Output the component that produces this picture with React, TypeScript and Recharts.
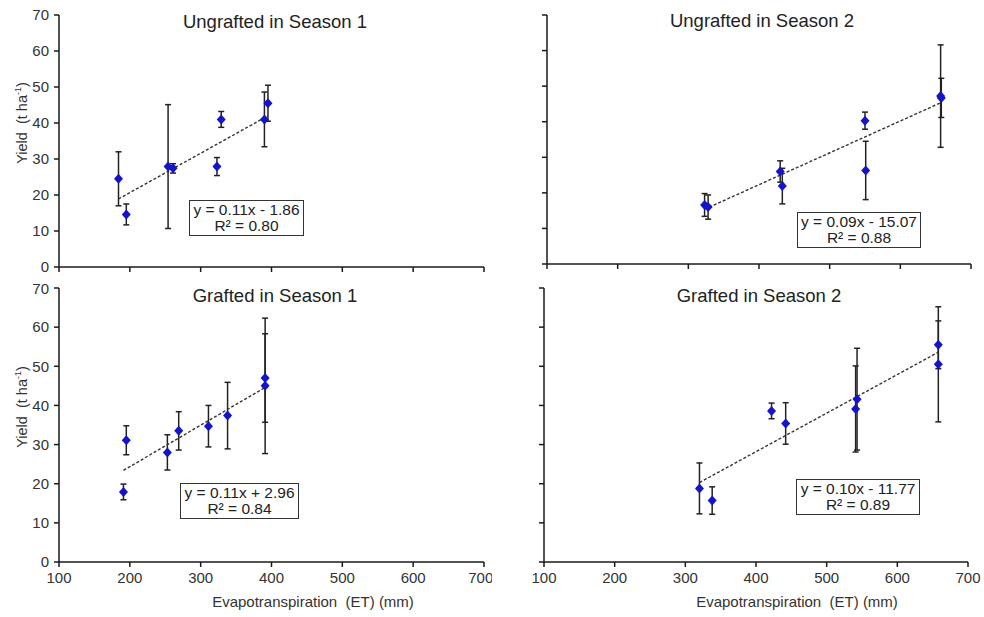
import React from 'react';
import { ScatterChart, Scatter, XAxis, YAxis, ErrorBar } from 'recharts';

// ET (mm), yield (t/ha) and error (±) for each panel
const ungrafted1X = [184, 195, 254, 261, 323, 329, 390, 395];
const ungrafted1Y = [24.5, 14.6, 27.9, 27.4, 27.9, 41.0, 41.0, 45.5];
const ungrafted1Err = [7.5, 2.9, 17.2, 1.3, 2.5, 2.2, 7.6, 5.0];

const ungrafted2X = [323, 328, 430, 433, 550, 551, 657, 658];
const ungrafted2Y = [16.6, 16.0, 26.0, 21.9, 40.3, 26.3, 47.2, 46.7];
const ungrafted2Err = [3.2, 3.4, 3.0, 5.0, 2.4, 8.2, 14.4, 5.5];

const grafted1X = [191, 195, 253, 269, 311, 338, 391, 391];
const grafted1Y = [17.9, 31.1, 28.0, 33.5, 34.7, 37.4, 47.0, 45.0];
const grafted1Err = [2.0, 3.7, 4.5, 4.9, 5.3, 8.5, 11.3, 17.3];

const grafted2X = [320, 338, 422, 442, 541, 543, 658, 658];
const grafted2Y = [18.8, 15.7, 38.6, 35.4, 39.1, 41.6, 55.5, 50.5];
const grafted2Err = [6.5, 3.5, 2.0, 5.3, 11.0, 13.0, 6.1, 14.7];

// fitted line end points [x, y] as drawn
const ungrafted1Trend = [[184, 18.9], [395, 42.0]];
const ungrafted2Trend = [[323, 15.4], [658, 45.4]];
const grafted1Trend = [[191, 23.4], [391, 44.6]];
const grafted2Trend = [[320, 20.3], [658, 53.6]];

const titles = ['Ungrafted in Season 1', 'Ungrafted in Season 2', 'Grafted in Season 1', 'Grafted in Season 2'];
const equations = ['y = 0.11x - 1.86', 'y = 0.09x - 15.07', 'y = 0.11x + 2.96', 'y = 0.10x - 11.77'];
const rSquared = ['R² = 0.80', 'R² = 0.88', 'R² = 0.84', 'R² = 0.89'];

const xTicks = [100, 200, 300, 400, 500, 600, 700];
const yTicks = [0, 10, 20, 30, 40, 50, 60, 70];

const FONT = '"Liberation Sans", Arial, sans-serif';
const AXIS = '#1a1a1a';

const toPoints = (xs: number[], ys: number[], errs: number[]) =>
  xs.map((x, i) => ({ x, y: ys[i], err: errs[i] }));

const toLine = (pts: number[][]) => pts.map(([x, y]) => ({ x, y }));

const Diamond = (props: any) => {
  const { cx, cy } = props;
  if (cx == null || cy == null) return <g />;
  return (
    <path
      d={`M${cx},${cy - 5} L${cx + 4.5},${cy} L${cx},${cy + 5} L${cx - 4.5},${cy} Z`}
      fill="#1414c8"
    />
  );
};

const NoDot = () => <g />;

interface PanelProps {
  left: number;
  top: number;
  width: number;
  height: number;
  yAxisWidth: number;
  margin: { top: number; right: number; bottom: number; left: number };
  showXLabels: boolean;
  showYLabels: boolean;
  points: { x: number; y: number; err: number }[];
  trend: { x: number; y: number }[];
}

const Panel: React.FC<PanelProps> = ({
  left, top, width, height, yAxisWidth, margin, showXLabels, showYLabels, points, trend,
}) => (
  <div style={{ position: 'absolute', left, top }}>
    <ScatterChart width={width} height={height} margin={margin}>
      <XAxis
        type="number"
        dataKey="x"
        domain={[100, 700]}
        ticks={xTicks}
        allowDataOverflow
        height={30}
        tickSize={5}
        tickMargin={5}
        stroke={AXIS}
        strokeWidth={1.5}
        tick={{ fill: '#333', fontSize: 15, fontFamily: FONT }}
        tickFormatter={(v: number) => (showXLabels ? String(v) : '')}
      />
      <YAxis
        type="number"
        dataKey="y"
        domain={[0, 70]}
        ticks={yTicks}
        allowDataOverflow
        width={yAxisWidth}
        tickSize={5}
        tickMargin={5}
        stroke={AXIS}
        strokeWidth={1.5}
        tick={{ fill: '#333', fontSize: 15, fontFamily: FONT }}
        tickFormatter={(v: number) => (showYLabels ? String(v) : '')}
      />
      <Scatter
        data={trend}
        shape={NoDot}
        line={{ stroke: '#333', strokeWidth: 1.4, strokeDasharray: '3 2' }}
        isAnimationActive={false}
      />
      <Scatter data={points} shape={Diamond} isAnimationActive={false}>
        <ErrorBar dataKey="err" direction="y" width={3} stroke="#222" strokeWidth={1.5} />
      </Scatter>
    </ScatterChart>
  </div>
);

const Title: React.FC<{ x: number; y: number; text: string }> = ({ x, y, text }) => (
  <div
    style={{
      position: 'absolute', left: x - 150, top: y, width: 300, textAlign: 'center',
      fontFamily: FONT, fontSize: 18.5, color: '#222', whiteSpace: 'nowrap',
    }}
  >
    {text}
  </div>
);

const EqBox: React.FC<{ x: number; y: number; w: number; eq: string; r2: string }> = ({ x, y, w, eq, r2 }) => (
  <div
    style={{
      position: 'absolute', left: x, top: y, width: w, border: '1.5px solid #333',
      background: '#fff', fontFamily: FONT, fontSize: 15.5, color: '#222',
      textAlign: 'center', lineHeight: '16px', padding: '1px 0',
    }}
  >
    <div>{eq}</div>
    <div>{r2}</div>
  </div>
);

const YLabel: React.FC<{ cy: number }> = ({ cy }) => (
  <div
    style={{
      position: 'absolute', left: 18 - 60, top: cy - 9, width: 120, height: 18,
      textAlign: 'center', transform: 'rotate(-90deg)', fontFamily: FONT,
      fontSize: 14.5, color: '#333', whiteSpace: 'pre', lineHeight: '18px',
    }}
  >
    {'Yield  (t ha'}<sup style={{ fontSize: 9 }}>-1</sup>)
  </div>
);

const XLabel: React.FC<{ cx: number }> = ({ cx }) => (
  <div
    style={{
      position: 'absolute', left: cx - 150, top: 593, width: 300, textAlign: 'center',
      fontFamily: FONT, fontSize: 15, color: '#333', whiteSpace: 'pre',
    }}
  >
    {'Evapotranspiration  (ET) (mm)'}
  </div>
);

const App: React.FC = () => {
  const topMargin = { top: 15, right: 8, bottom: 0, left: 0 };
  return (
    <div style={{ position: 'absolute', left: 0, top: 0, width: 984, height: 617, background: '#fff' }}>
      <Panel
        left={0} top={0} width={492} height={297} yAxisWidth={59}
        margin={topMargin} showXLabels={false} showYLabels
        points={toPoints(ungrafted1X, ungrafted1Y, ungrafted1Err)} trend={toLine(ungrafted1Trend)}
      />
      <Panel
        left={490} top={0} width={492} height={294} yAxisWidth={57}
        margin={{ top: 15, right: 11, bottom: 0, left: 0 }} showXLabels={false} showYLabels={false}
        points={toPoints(ungrafted2X, ungrafted2Y, ungrafted2Err)} trend={toLine(ungrafted2Trend)}
      />
      <Panel
        left={0} top={280} width={492} height={337} yAxisWidth={59}
        margin={{ top: 8, right: 8, bottom: 25, left: 0 }} showXLabels showYLabels
        points={toPoints(grafted1X, grafted1Y, grafted1Err)} trend={toLine(grafted1Trend)}
      />
      <Panel
        left={490} top={280} width={492} height={337} yAxisWidth={54}
        margin={{ top: 8, right: 14, bottom: 25, left: 0 }} showXLabels showYLabels={false}
        points={toPoints(grafted2X, grafted2Y, grafted2Err)} trend={toLine(grafted2Trend)}
      />

      <Title x={275} y={11} text={titles[0]} />
      <Title x={762} y={10} text={titles[1]} />
      <Title x={275} y={285} text={titles[2]} />
      <Title x={759} y={285} text={titles[3]} />

      <EqBox x={189} y={200} w={113} eq={equations[0]} r2={rSquared[0]} />
      <EqBox x={797} y={212} w={122} eq={equations[1]} r2={rSquared[1]} />
      <EqBox x={180} y={483} w={117} eq={equations[2]} r2={rSquared[2]} />
      <EqBox x={796} y={479} w={122} eq={equations[3]} r2={rSquared[3]} />

      <YLabel cy={123} />
      <YLabel cy={407} />
      <XLabel cx={313} />
      <XLabel cx={797} />
    </div>
  );
};

export default App;
